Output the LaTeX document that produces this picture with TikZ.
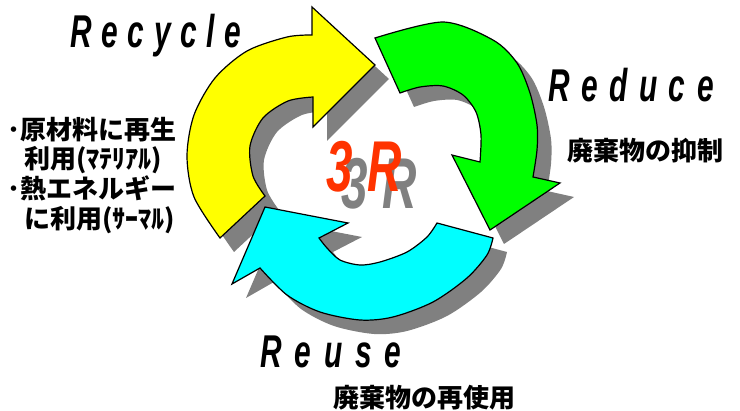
\documentclass[tikz,border=0pt]{standalone}
\usepackage{fontspec}
\setmainfont{Liberation Sans}
\newfontfamily\wordfont[FakeStretch=0.65,LetterSpace=25]{Liberation Sans}
\newfontfamily\bigfont[FakeStretch=0.66]{Liberation Sans}
\newfontfamily\jpfont{Noto Sans CJK JP}
\definecolor{shadowgray}{RGB}{128,128,128}
\definecolor{tred}{RGB}{255,51,0}
\definecolor{yelfill}{RGB}{255,255,0}
\definecolor{grnfill}{RGB}{0,255,0}
\definecolor{cynfill}{RGB}{0,255,255}

% the three ring arrows, in pixel coordinates
\def\arrowY{plot[smooth] coordinates {(220,238) (194,197) (187,156)
  (194,115) (215,78) (247,51) (287,37) (312,35)}
  -- (312,7) -- (375,65) -- (313,127)
  -- plot[smooth] coordinates {(313,97) (288,101) (263,118) (250,146)
  (253,176) (265,196)} -- cycle}
\def\arrowG{plot[smooth] coordinates {(375,38) (443,22) (493,40)
  (517,63) (530,93) (537,125) (537,150) (533,177)}
  -- (560,183) -- (490,230) -- (452,155)
  -- plot[smooth] coordinates {(480,162) (481,135) (476,112) (463,95)
  (443,86) (420,87) (400,93)} -- cycle}
\def\arrowC{plot[smooth] coordinates {(493,238) (487,255) (467,278)
  (433,302) (393,317) (360,320) (320,312) (287,295) (260,268)}
  -- (232,284) -- (265,207) -- (348,223)
  -- plot[smooth] coordinates {(319,238) (327,248) (340,260) (360,265)
  (380,262) (407,252) (427,237) (437,223)} -- cycle}

\begin{document}
\begin{tikzpicture}[x=1pt,y=-1pt,
    rim/.style={draw=black,line width=1.2pt},
    word/.style={font=\wordfont\bfseries\itshape\fontsize{46}{46}\selectfont,
      anchor=base west,inner sep=0pt},
    caption/.style={font=\jpfont\bfseries\fontsize{26}{26}\selectfont,
      anchor=base west,inner sep=0pt},
    note/.style={font=\jpfont\bfseries\fontsize{26}{26}\selectfont,
      anchor=base west,inner sep=0pt},
    mark3r/.style={font=\bigfont\bfseries\itshape\fontsize{72}{72}\selectfont,
      anchor=base west,inner sep=0pt}]
  \useasboundingbox (0,0) rectangle (740,411);
  % shadows
  \foreach \ring in {\arrowY,\arrowG,\arrowC}
    \fill[shadowgray,shift={(14,14)}] \ring;
  % arrows
  \draw[rim,fill=yelfill] \arrowY;
  \draw[rim,fill=grnfill] \arrowG;
  \draw[rim,fill=cynfill] \arrowC;
  % 3R in the middle
  \node[mark3r,text=shadowgray] (mid3rs) at (341,209) {3\kern15pt R};
  \node[mark3r,text=tred] (mid3r) at (326,192) {3\kern15pt R};
  % words
  \node[word] (recycle) at (70,48) {\addfontfeature{LetterSpace=21}Recycle};
  \node[word] (reduce) at (548,102) {Reduce};
  \node[word] (reuse) at (260,368) {\addfontfeature{LetterSpace=28}Reuse};
  \node[caption] (reducetxt) at (567,161) {廃棄物の抑制};
  \node[caption] (reusetxt) at (333,408) {廃棄物の再使用};
  \node[note] (mat1) at (7,140) {･原材料に再生};
  \node[note] (mat2) at (24,169) {利用(ﾏﾃﾘｱﾙ)};
  \node[note] (heat1) at (7,199) {･熱エネルギー};
  \node[note] (heat2) at (24,229) {に利用(ｻｰﾏﾙ)};
\end{tikzpicture}
\end{document}
